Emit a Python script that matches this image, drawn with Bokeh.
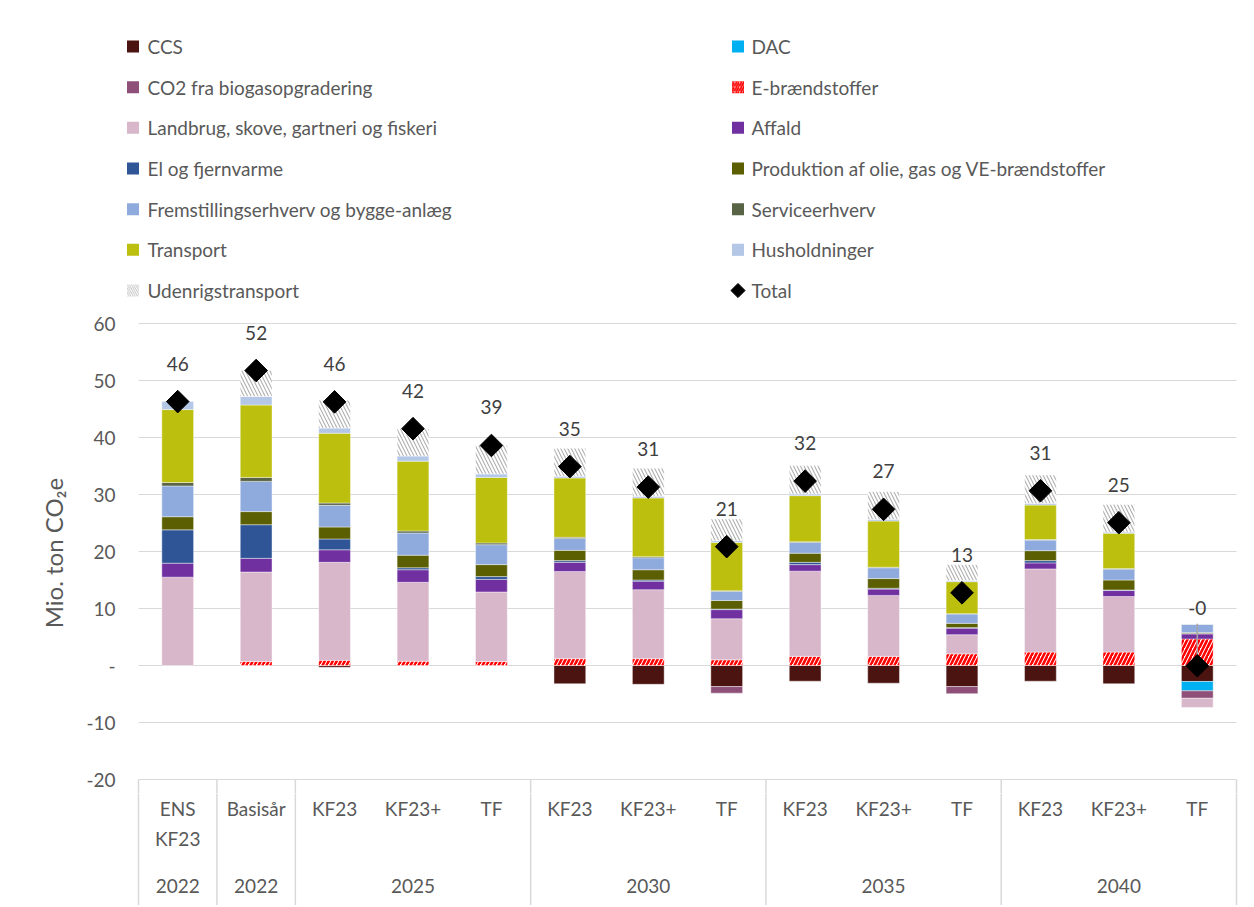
import numpy as np
from bokeh.plotting import figure
from bokeh.models import ColumnDataSource, Range1d, FixedTicker
from bokeh.layouts import column
from bokeh.embed import file_html
from bokeh.resources import INLINE
from bokeh.core.properties import value

# ---------------- data ----------------
scenarios = ["ENS KF23", "Basisår", "KF23", "KF23+", "TF", "KF23", "KF23+", "TF",
             "KF23", "KF23+", "TF", "KF23", "KF23+", "TF"]
group_labels = ["2022", "2022", "2025", "2030", "2035", "2040"]
group_sizes = [1, 1, 3, 3, 3, 3]

series_names = ["CCS", "DAC", "CO2 fra biogasopgradering", "E-brændstoffer",
                "Landbrug, skove, gartneri og fiskeri", "Affald", "El og fjernvarme",
                "Produktion af olie, gas og VE-brændstoffer",
                "Fremstillingserhverv og bygge-anlæg", "Serviceerhverv", "Transport",
                "Husholdninger", "Udenrigstransport"]

ccs       = [0, 0, -0.3, 0, 0, -3.2, -3.3, -3.7, -2.75, -3.1, -3.7, -2.75, -3.2, -2.8]
dac       = [0, 0, 0, 0, 0, 0, 0, 0, 0, 0, 0, 0, 0, -1.65]
co2_biogas = [0, 0, 0, 0, 0, 0, 0, -1.15, 0, 0, -1.25, 0, 0, -1.3]
e_fuels   = [0, 0.7, 0.9, 0.75, 0.7, 1.2, 1.2, 1.0, 1.6, 1.6, 2.05, 2.35, 2.35, 4.65]
landbrug  = [15.5, 15.7, 17.2, 13.85, 12.2, 15.3, 12.1, 7.2, 14.95, 10.7, 3.35, 14.6, 9.75, -1.6]
affald    = [2.45, 2.4, 2.2, 2.2, 2.2, 1.6, 1.5, 1.6, 1.15, 1.1, 1.15, 1.05, 1.05, 0.9]
el        = [5.85, 5.9, 1.9, 0.35, 0.5, 0.3, 0.2, 0.1, 0.4, 0.15, 0.1, 0.4, 0.1, 0.05]
produktion = [2.3, 2.3, 2.1, 2.2, 2.1, 1.8, 1.8, 1.5, 1.6, 1.7, 0.75, 1.75, 1.75, 0.2]
fremstilling = [5.4, 5.3, 3.8, 3.9, 3.5, 2.1, 2.1, 1.6, 1.9, 1.9, 1.65, 1.85, 1.9, 1.4]
service   = [0.6, 0.7, 0.4, 0.35, 0.3, 0.2, 0.2, 0.1, 0.1, 0.1, 0.05, 0.1, 0.1, 0.05]
transport = [12.8, 12.7, 12.25, 12.25, 11.5, 10.4, 10.3, 8.5, 8.1, 8.1, 5.6, 6.05, 6.2, 0]
husholdning = [1.4, 1.5, 0.9, 0.9, 0.6, 0.3, 0.3, 0.3, 0.3, 0.3, 0.2, 0.3, 0.2, 0.05]
udenrig   = [0, 4.55, 4.9, 4.8, 5.0, 4.9, 4.9, 3.8, 5.0, 4.85, 2.8, 4.95, 4.85, 0]

series_values = [ccs, dac, co2_biogas, e_fuels, landbrug, affald, el, produktion,
                 fremstilling, service, transport, husholdning, udenrig]

y_ticks = [-20, -10, 0, 10, 20, 30, 40, 50, 60]
y_tick_labels = ["-20", "-10", "-", "10", "20", "30", "40", "50", "60"]
y_title = "Mio. ton CO\u2082e"

# ---------------- styles ----------------
FONT = "Lato"
TXT = "#595959"
GRID = "#d9d9d9"
styles = [
    dict(fill_color="#4b1410"),
    dict(fill_color="#00b0f0"),
    dict(fill_color="#8e5078"),
    dict(fill_color="white", hatch_pattern="/", hatch_color="#ff0000", hatch_scale=8, hatch_weight=2.6),
    dict(fill_color="#d8b7cb"),
    dict(fill_color="#7030a0"),
    dict(fill_color="#2f5597"),
    dict(fill_color="#5b5f02"),
    dict(fill_color="#8faadc"),
    dict(fill_color="#596447"),
    dict(fill_color="#bcbf0d"),
    dict(fill_color="#b4c7e7"),
    dict(fill_color="white", hatch_pattern="\\", hatch_color="#b0b0b0", hatch_scale=7, hatch_weight=1.1),
]

W = 1250
FL, FR = 120, 1240          # frame left/right edge (px), shared by all panels
n = len(scenarios)
xs = np.arange(n, dtype=float)
PXU = 78.43                 # px per category
x_start = -0.5 - (138 - FL) / PXU
x_end = n - 0.5 + (FR - 1236) / PXU
xr = Range1d(x_start, x_end)

# ---------------- main plot ----------------
TOP, BOT = 312, 793
MAIN_H = BOT - TOP
y1 = (665 - TOP) / 5.7
y0 = (665 - BOT) / 5.7
main = figure(width=W, height=MAIN_H, x_range=xr, y_range=Range1d(y0, y1),
              output_backend="svg", toolbar_location=None,
              min_border_left=FL, min_border_right=W - FR, min_border_top=0, min_border_bottom=0)
main.outline_line_color = None
main.xaxis.visible = False
main.grid.visible = False
ax = main.yaxis[0]
ax.ticker = FixedTicker(ticks=y_ticks)
ax.major_label_overrides = dict(zip(y_ticks, y_tick_labels))
ax.axis_line_color = None
ax.major_tick_line_color = None
ax.minor_tick_line_color = None
ax.major_tick_out = 0
ax.major_tick_in = 0
ax.major_label_standoff = 5
ax.major_label_text_font = FONT
ax.major_label_text_font_size = "19px"
ax.major_label_text_color = TXT
ax.axis_label = y_title
ax.axis_label_text_font = FONT
ax.axis_label_text_font_size = "24px"
ax.axis_label_text_font_style = "normal"
ax.axis_label_text_color = TXT
ax.axis_label_standoff = 15

# horizontal gridlines over the plot area only
main.segment(x0=[-0.5] * len(y_ticks), y0=y_ticks, x1=[n - 0.5] * len(y_ticks), y1=y_ticks,
             line_color=GRID, line_width=1.2)

bounds = np.concatenate([[-0.5], -0.5 + np.cumsum(group_sizes)])
# top part of the category separators (below the -20 line)
main.segment(x0=bounds, y0=[y0 - 1] * len(bounds), x1=bounds, y1=[y_ticks[0]] * len(bounds),
             line_color=GRID, line_width=1.5)

arr = np.array(series_values, dtype=float)
pos_base = np.zeros(n)
neg_base = np.zeros(n)
bar_w = 0.405
for vals, st in zip(arr, styles):
    bottoms = np.where(vals >= 0, pos_base, neg_base + vals)
    tops = np.where(vals >= 0, pos_base + vals, neg_base)
    pos_base = pos_base + np.clip(vals, 0, None)
    neg_base = neg_base + np.clip(vals, None, 0)
    m = vals != 0
    src = ColumnDataSource(dict(x=xs[m], bottom=bottoms[m], top=tops[m]))
    main.vbar(x="x", bottom="bottom", top="top", width=bar_w, source=src,
              line_color="white", line_width=0.6, line_alpha=0.7, **st)

total = arr.sum(axis=0)
total_labels = [f"{t:.0f}" for t in total]
label_dy = [-38] * (n - 1) + [-58]

main.segment(x0=[xs[-1]], y0=[total[-1]], x1=[xs[-1]], y1=[total[-1] + 42 / 5.7],
             line_color="#a6a6a6", line_width=1.5)
main.scatter(xs, total, marker="square", angle=np.pi / 4, size=16, color="black")
main.text(x=xs, y=total, text=total_labels, y_offset=label_dy, text_align="center",
          text_baseline="middle", text_font=value(FONT), text_font_size="19px", text_color="#404040")

# ---------------- legend (top) ----------------
LEG_H = TOP
leg = figure(width=W, height=LEG_H, x_range=Range1d(FL, FR), y_range=Range1d(0, LEG_H),
             output_backend="svg", toolbar_location=None,
             min_border_left=FL, min_border_right=W - FR, min_border_top=0, min_border_bottom=0)
leg.axis.visible = False
leg.grid.visible = False
leg.outline_line_color = None
items = series_names + ["Total"]
row_y = [LEG_H - (46 + 40.67 * r) for r in range(7)]
col_mx = [132.5, 737.5]
col_tx = [147, 751]
for k, name in enumerate(items):
    r, c = divmod(k, 2)
    yy = row_y[r]
    if name == "Total":
        leg.scatter([col_mx[c]], [yy], marker="square", angle=np.pi / 4, size=10, color="black")
    else:
        st = dict(styles[k])
        if "hatch_scale" in st:
            st["hatch_scale"] = st["hatch_scale"] * 0.6
            st["hatch_weight"] = st["hatch_weight"] * 0.7
        leg.rect(x=[col_mx[c]], y=[yy], width=12, height=12, line_color=None, **st)
    leg.text(x=[col_tx[c]], y=[yy], text=[name], text_align="left", text_baseline="middle",
             text_font=value(FONT), text_font_size="19px", text_color=TXT)

# ---------------- category axis (bottom) ----------------
H_TOTAL = 905
CAT_H = H_TOTAL - BOT
cat = figure(width=W, height=CAT_H, x_range=xr, y_range=Range1d(0, CAT_H),
             output_backend="svg", toolbar_location=None,
             min_border_left=FL, min_border_right=W - FR, min_border_top=0, min_border_bottom=0)
cat.axis.visible = False
cat.grid.visible = False
cat.outline_line_color = None
cat.segment(x0=bounds, y0=[0] * len(bounds), x1=bounds, y1=[CAT_H + 5] * len(bounds),
            line_color=GRID, line_width=1.5)
lx, ly, lt = [], [], []
for i, s in enumerate(scenarios):
    for j, part in enumerate(s.split(" ")):
        lx.append(xs[i]); ly.append(H_TOTAL - 808 - 30 * j); lt.append(part)
cat.text(x=lx, y=ly, text=lt, text_align="center", text_baseline="middle",
         text_font=value(FONT), text_font_size="19px", text_color=TXT)
gx = (bounds[:-1] + bounds[1:]) / 2
cat.text(x=gx, y=[H_TOTAL - 885] * len(gx), text=group_labels, text_align="center",
         text_baseline="middle", text_font=value(FONT), text_font_size="19px", text_color=TXT)

layout = column(leg, main, cat, spacing=0)
open("out.html", "w").write(file_html(layout, INLINE))
